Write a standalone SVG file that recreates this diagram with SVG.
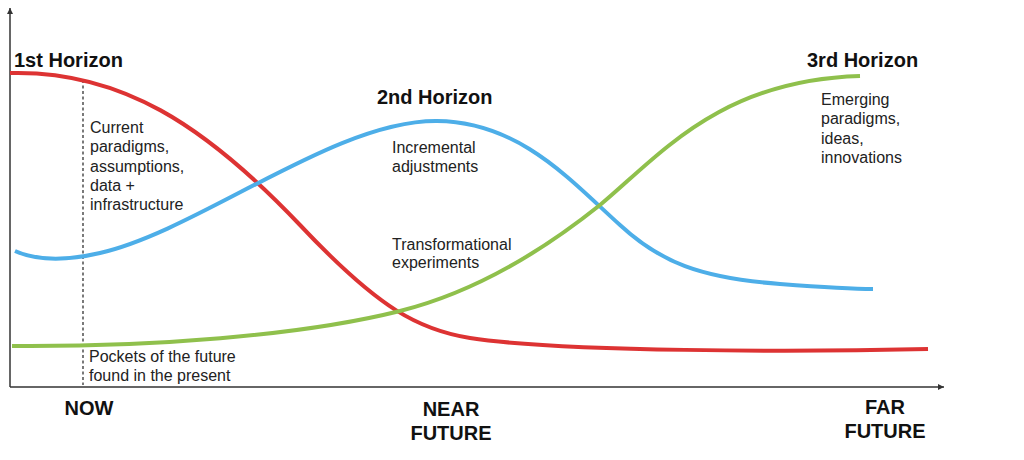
<svg xmlns="http://www.w3.org/2000/svg" width="1024" height="460" viewBox="0 0 1024 460">
<style>
.ax{stroke:#333;stroke-width:1.5;fill:none}
.crv{fill:none;stroke-width:4;stroke-linecap:butt}
.h{font-family:"Liberation Sans",Arial,sans-serif;font-weight:bold;font-size:20px;fill:#111}
.t{font-family:"Liberation Sans",Arial,sans-serif;font-size:16px;fill:#222}
</style>
<defs>
<marker id="arr" markerWidth="8" markerHeight="8" refX="6" refY="3" orient="auto" markerUnits="userSpaceOnUse">
<path d="M0,0 L6,3 L0,6 Z" fill="#333"/>
</marker>
</defs>
<rect width="1024" height="460" fill="#fff"/>
<g id="axes">
<line class="ax" x1="10" y1="387" x2="10" y2="8" marker-end="url(#arr)"/>
<line class="ax" x1="10" y1="387" x2="944" y2="387" marker-end="url(#arr)"/>
<line x1="83" y1="80" x2="83" y2="385" stroke="#333" stroke-width="1.3" stroke-dasharray="3,2.5"/>
</g>
<g id="connectors">
<path id="red" class="crv" stroke="#dd3333" d="M10,73 C120,70 205,125 300,225 C380,310 420,330 470,338 C560,352 800,352 928,349"/>
<path id="blue" class="crv" stroke="#4daee8" d="M15,251 C40,262 70,260 100,253 C200,230 335,120 437,121 C520,122 570,180 620,225 C660,262 700,278 780,284 C820,287 850,289 873,289"/>
<path id="green" class="crv" stroke="#8fc04c" d="M12,346 C150,347 300,336 400,311 C480,291 550,245 600,205 C660,155 720,80 860,76"/>
</g>
<g id="h1">
<text class="h" x="14" y="67">1st Horizon</text>
<text class="t" x="90"><tspan x="90" y="133">Current</tspan><tspan x="90" y="152.3">paradigms,</tspan><tspan x="90" y="171.6">assumptions,</tspan><tspan x="90" y="190.9">data +</tspan><tspan x="90" y="210.2">infrastructure</tspan></text>
</g>
<g id="h2">
<text class="h" x="377" y="104">2nd Horizon</text>
<text class="t"><tspan x="392" y="153">Incremental</tspan><tspan x="392" y="171.5">adjustments</tspan></text>
<text class="t"><tspan x="392" y="250">Transformational</tspan><tspan x="392" y="268">experiments</tspan></text>
</g>
<g id="h3">
<text class="h" x="807" y="67">3rd Horizon</text>
<text class="t"><tspan x="821" y="105">Emerging</tspan><tspan x="821" y="124">paradigms,</tspan><tspan x="821" y="143.5">ideas,</tspan><tspan x="821" y="163">innovations</tspan></text>
</g>
<g id="pockets">
<text class="t"><tspan x="89" y="362">Pockets of the future</tspan><tspan x="89" y="381">found in the present</tspan></text>
</g>
<g id="labels">
<text class="h" x="89" y="415" text-anchor="middle">NOW</text>
<text class="h" text-anchor="middle"><tspan x="451" y="416">NEAR</tspan><tspan x="451" y="440">FUTURE</tspan></text>
<text class="h" text-anchor="middle"><tspan x="885" y="414">FAR</tspan><tspan x="885" y="438">FUTURE</tspan></text>
</g>
</svg>
